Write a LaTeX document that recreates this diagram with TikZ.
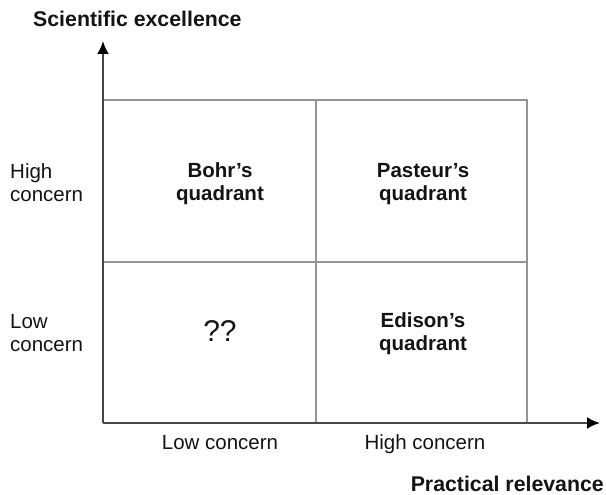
\documentclass[tikz,border=0pt]{standalone}
\usepackage{fontspec}
\setmainfont{Liberation Sans}
\usetikzlibrary{arrows.meta}
\begin{document}
\begin{tikzpicture}[x=1pt,y=-1pt,
  axis/.style={draw=black!72, line width=2.2pt, -{Latex[length=13pt,width=12pt,black]}},
  gridline/.style={draw=black!42, line width=1.3pt},
  lbl/.style={inner sep=0pt, text=black!92, font=\fontsize{20.5}{23}\selectfont},
  bold/.style={lbl, font=\fontsize{20.5}{23}\selectfont\bfseries},
  title/.style={lbl, font=\fontsize{21.3}{24}\selectfont\bfseries},
  quad/.style={bold, align=center},
  side/.style={lbl, align=left, anchor=west},
  qmark/.style={lbl, font=\fontsize{30}{32}\selectfont}]
\useasboundingbox (0,0) rectangle (606,495);
\fill[white] (0,0) rectangle (606,495);

% frame of the four quadrants
\coordinate (o) at (103,423);
\coordinate (tl) at (103,100);
\coordinate (tr) at (527,100);
\coordinate (br) at (527,423);
\coordinate (mt) at (316,100);
\coordinate (mb) at (316,423);
\coordinate (ml) at (103,262);
\coordinate (mr) at (527,262);
\coordinate (ytip) at (103,41);
\coordinate (xtip) at (600,423);

\draw[gridline] (tl) -- (tr) -- (br);
\draw[gridline] (mt) -- (mb);
\draw[gridline] (ml) -- (mr);

% axes
\draw[axis] (o) -- (ytip);
\draw[axis] (o) -- (xtip);

% axis titles
\node[title, anchor=base west] (ytitle) at (33,27) {Scientific excellence};
\node[title, anchor=base east] (xtitle) at (604,491) {Practical relevance};

% axis categories
\node[side] (yhigh) at (10,183) {High\\concern};
\node[side] (ylow) at (10,333) {Low\\concern};
\node[lbl, anchor=base] (xlow) at (220,449) {Low concern};
\node[lbl, anchor=base] (xhigh) at (425,449) {High concern};

% quadrant names
\node[quad] (bohr) at (220,184) {Bohr’s\\quadrant};
\node[quad] (pasteur) at (423,184) {Pasteur’s\\quadrant};
\node[quad] (edison) at (423,334) {Edison’s\\quadrant};
\node[qmark] (unknown) at (220,331) {??};
\end{tikzpicture}
\end{document}
